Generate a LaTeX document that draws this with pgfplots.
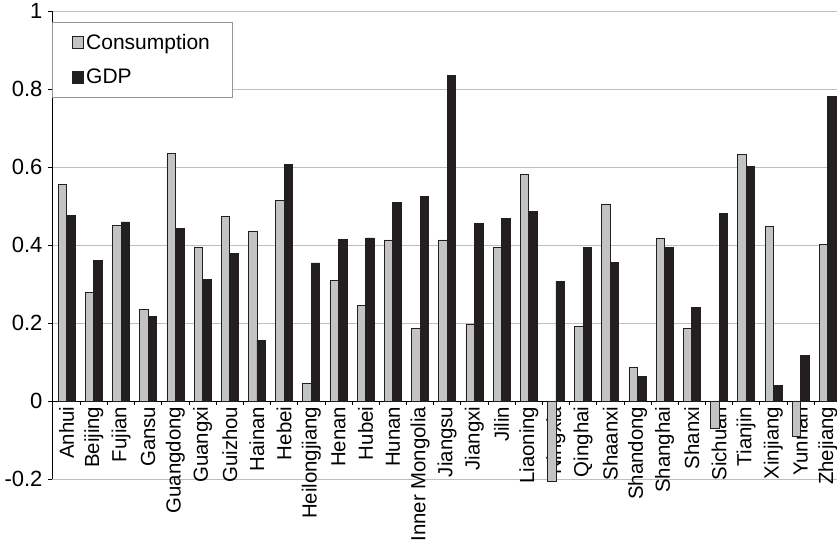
\documentclass[border=0pt]{standalone}
\usepackage{fontspec}
\setmainfont{Liberation Sans}
\usepackage{pgfplots}
\pgfplotsset{compat=1.18}
\pgfplotsset{layers/labelsontop/.define layer set={axis background,axis grid,axis ticks,main,axis lines,axis tick labels,axis descriptions,axis foreground}{}}

\definecolor{barblack}{RGB}{35,31,32}
\definecolor{bargray}{RGB}{194,195,197}
\definecolor{gridgray}{RGB}{190,190,190}
\definecolor{legframe}{RGB}{150,150,150}

\begin{document}
\begin{tikzpicture}
\begin{axis}[
  set layers=labelsontop,
  scale only axis,
  width=785bp, height=468bp,
  xmin=-0.54, xmax=28.34,
  ymin=-0.2, ymax=1,
  clip=false,
  ybar=0pt,
  bar width=8.5bp,
  axis x line=middle,
  axis y line=left,
  axis line style={-, black, line width=0.8bp},
  tick align=outside,
  major tick length=4bp,
  minor tick length=4bp,
  tick style={black, line width=0.8bp},
  xtick={0,...,28},
  major x tick style={draw=none},
  minor xtick={0.5,1.5,...,27.5},
  xticklabels={Anhui,Beijing,Fujian,Gansu,Guangdong,Guangxi,Guizhou,Hainan,Hebei,Heilongjiang,Henan,Hubei,Hunan,Inner Mongolia,Jiangsu,Jiangxi,Jilin,Liaoning,Ningxia,Qinghai,Shaanxi,Shandong,Shanghai,Shanxi,Sichuan,Tianjin,Xinjiang,Yunnan,Zhejiang},
  xticklabel style={rotate=90, anchor=east, font=\fontsize{20.4bp}{24bp}\selectfont, inner sep=1.5bp},
  ytick={-0.2,0,0.2,0.4,0.6,0.8,1},
  yticklabels={-0.2,0,0.2,0.4,0.6,0.8,1},
  yticklabel style={font=\fontsize{22bp}{26bp}\selectfont, xshift=-2bp},
  ymajorgrids,
  grid style={gridgray, line width=0.8bp},
  legend cell align=left,
  legend style={at={(0,0.9765)}, anchor=north west, draw=legframe, line width=0.8bp,
    font=\fontsize{21bp}{25bp}\selectfont, inner xsep=20bp, inner ysep=10bp, row sep=14bp},
  legend image code/.code={\draw[#1, line width=0.8bp] (2bp,-6bp) rectangle (13bp,6bp);},
]
\addplot[draw=barblack, fill=bargray, line width=0.8bp] coordinates {
(0,0.556) (1,0.279) (2,0.450) (3,0.235) (4,0.634) (5,0.395) (6,0.474) (7,0.436)
(8,0.514) (9,0.045) (10,0.310) (11,0.246) (12,0.413) (13,0.186) (14,0.413)
(15,0.197) (16,0.393) (17,0.580) (18,-0.206) (19,0.190) (20,0.503) (21,0.086)
(22,0.416) (23,0.185) (24,-0.070) (25,0.633) (26,0.448) (27,-0.091) (28,0.401)
};
\addlegendentry{Consumption}
\addplot[draw=barblack, fill=barblack, line width=0.8bp] coordinates {
(0,0.475) (1,0.360) (2,0.459) (3,0.216) (4,0.443) (5,0.312) (6,0.379) (7,0.156)
(8,0.607) (9,0.354) (10,0.414) (11,0.418) (12,0.510) (13,0.525) (14,0.835)
(15,0.456) (16,0.467) (17,0.485) (18,0.307) (19,0.394) (20,0.356) (21,0.062)
(22,0.394) (23,0.240) (24,0.480) (25,0.602) (26,0.039) (27,0.117) (28,0.781)
};
\addlegendentry{GDP}
\end{axis}
\pgfresetboundingbox
\path (current axis.south west) ++(-52bp,-65bp) rectangle ([yshift=11bp]current axis.north east);
\end{tikzpicture}
\end{document}
